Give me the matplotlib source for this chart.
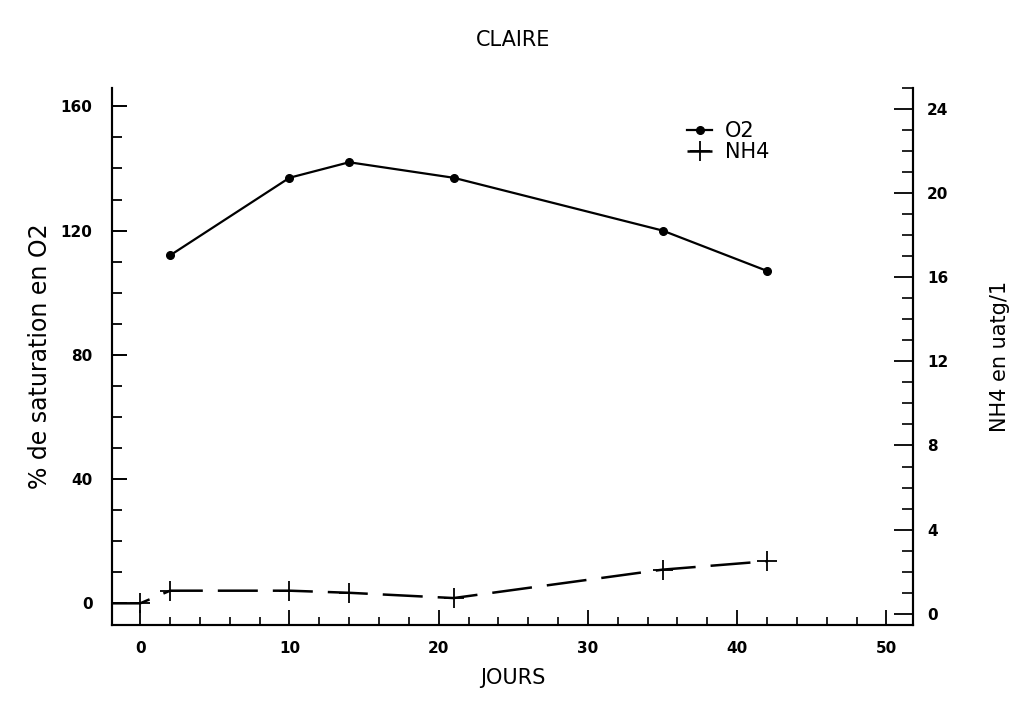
import matplotlib
matplotlib.use("Agg")
import matplotlib.pyplot as plt
from matplotlib.ticker import MultipleLocator

# Data
days_o2 = [2, 10, 14, 21, 35, 42]
o2_sat = [112, 137, 142, 137, 120, 107]
days_nh4 = [-2, 0, 2, 10, 14, 21, 35, 42]
nh4 = [0.5, 0.5, 1.1, 1.1, 1.0, 0.75, 2.1, 2.5]

plt.rcParams['font.family'] = ['DejaVu Sans']

fig = plt.figure(figsize=(10.17, 7.02), dpi=100)
ax = fig.add_axes([0.110, 0.110, 0.788, 0.765])
ax2 = ax.twinx()

l1, = ax.plot(days_o2, o2_sat, color='black', lw=1.6, marker='o', ms=5.5,
              mfc='black', mec='black', label='O2')
l2, = ax2.plot(days_nh4, nh4, color='black', lw=1.8, dashes=(16, 6),
               marker='+', ms=14, mew=1.3, markevery=list(range(1, len(days_nh4))),
               label='NH4')

ax.set_xlim(-1.9, 51.8)
ax.set_ylim(-7, 166)
ax2.set_ylim(-0.52, 25.0)

ax.xaxis.set_major_locator(MultipleLocator(10))
ax.xaxis.set_minor_locator(MultipleLocator(2))
ax.yaxis.set_major_locator(MultipleLocator(40))
ax.yaxis.set_minor_locator(MultipleLocator(10))
ax2.yaxis.set_major_locator(MultipleLocator(4))
ax2.yaxis.set_minor_locator(MultipleLocator(1))

for a in (ax, ax2):
    a.spines['top'].set_visible(False)
    for s in a.spines.values():
        s.set_linewidth(1.5)

ax.tick_params(axis='x', which='major', direction='in', length=11, width=1.3,
               pad=12, labelsize=11)
ax.tick_params(axis='x', which='minor', direction='in', length=6, width=1.2)
ax.tick_params(axis='y', which='major', direction='in', length=11, width=1.4,
               pad=14, labelsize=11)
ax.tick_params(axis='y', which='minor', direction='in', length=7, width=1.3)
ax2.tick_params(axis='y', which='major', direction='in', length=14, width=1.3,
                pad=10, labelsize=11)
ax2.tick_params(axis='y', which='minor', direction='in', length=8, width=1.2)

for lab in ax.get_xticklabels() + ax.get_yticklabels() + ax2.get_yticklabels():
    lab.set_fontweight('bold')

ax.set_xlabel('JOURS', fontsize=15, labelpad=8)
ax.set_ylabel('% de saturation en O2', fontsize=17, labelpad=6)
ax2.set_ylabel('NH4 en uatg/1', fontsize=15, labelpad=30, rotation=90)
ax.set_title('CLAIRE', fontsize=15, pad=30)

leg = ax.legend(handles=[l1, l2], loc='upper left', bbox_to_anchor=(0.7, 0.965),
                frameon=False, fontsize=15, handlelength=1.2, handletextpad=0.6,
                labelspacing=0.05, borderaxespad=0.3)

fig.savefig('out.png', dpi=100, facecolor='white')
